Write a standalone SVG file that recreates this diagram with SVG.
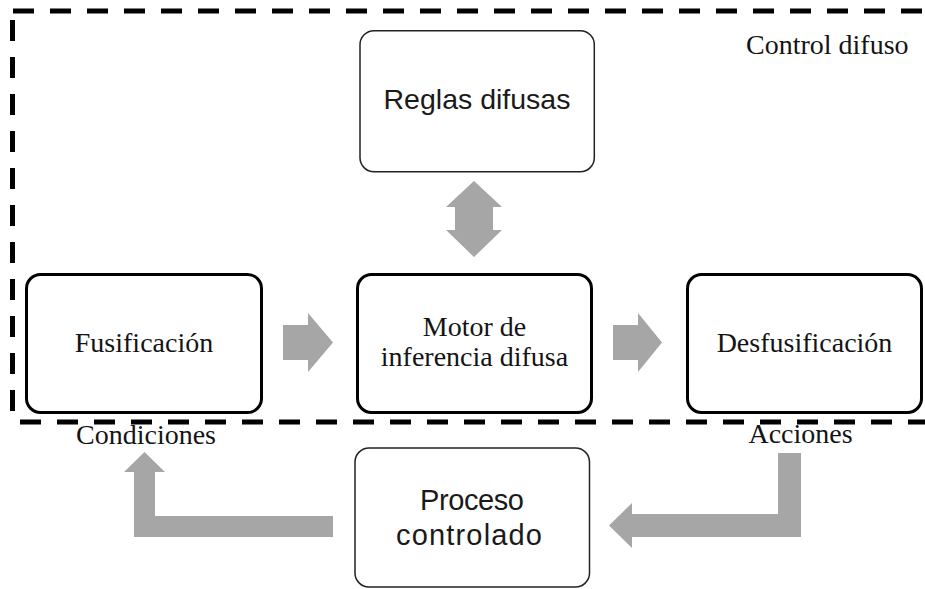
<svg xmlns="http://www.w3.org/2000/svg" width="925" height="589" viewBox="0 0 925 589">
<style>
.serif{font-family:"Liberation Serif","Times New Roman",serif;font-size:28px;fill:#141414;text-anchor:middle}
.sans{font-family:"Liberation Sans",Arial,sans-serif;font-size:28.5px;fill:#1a1a1a;text-anchor:middle}
.thick{fill:#fff;stroke:#000;stroke-width:3}
.thin{fill:#fff;stroke:#222;stroke-width:1.5}
.dash{stroke:#000;stroke-width:5;stroke-dasharray:21 16;fill:none}
.arrow{fill:#a6a6a6;stroke:none}
</style>
<rect width="925" height="589" fill="#fff"/>
<g id="control-difuso">
<line class="dash" x1="13" y1="11" x2="925" y2="11"/>
<line class="dash" x1="12.5" y1="20" x2="12.5" y2="418"/>
<line class="dash" x1="20" y1="422" x2="925" y2="422"/>
<text class="serif" x="746" y="54" style="text-anchor:start">Control difuso</text>
</g>
<g id="connectors">
<polygon class="arrow" points="474,181 502,207 493,207 493,230 502,230 474,257 446,230 455,230 455,207 446,207"/>
<polygon class="arrow" points="283,325 308,325 308,313 333,342.5 308,372 308,360 283,360"/>
<polygon class="arrow" points="613,325 638,325 638,313 662,342.5 638,372 638,360 613,360"/>
<polygon class="arrow" points="333,516 155,516 155,472 165,472 144.5,452 124,472 134,472 134,537 333,537"/>
<polygon class="arrow" points="778,453 801,453 801,537 632,537 632,548 609,525.5 632,503 632,514 778,514"/>
</g>
<g id="reglas">
<rect class="thin" x="360" y="30.7" width="234.3" height="141" rx="14"/>
<text class="sans" x="477" y="109">Reglas difusas</text>
</g>
<g id="fusificacion">
<rect class="thick" x="26.5" y="274.5" width="235" height="138" rx="14"/>
<text class="serif" x="144" y="352">Fusificación</text>
</g>
<g id="motor">
<rect class="thick" x="357.5" y="274.5" width="234" height="138" rx="14"/>
<text class="serif" x="474.5" y="336">Motor de</text>
<text class="serif" x="474.5" y="366">inferencia difusa</text>
</g>
<g id="desfusificacion">
<rect class="thick" x="687.5" y="274.5" width="234" height="138" rx="14"/>
<text class="serif" x="804.5" y="352">Desfusificación</text>
</g>
<g id="labels">
<text class="serif" x="146" y="444">Condiciones</text>
<text class="serif" x="800.5" y="443">Acciones</text>
</g>
<g id="proceso">
<rect class="thin" x="355" y="448" width="234.5" height="139" rx="14"/>
<text class="sans" x="472" y="510" style="font-size:29px" textLength="104">Proceso</text>
<text class="sans" x="469" y="545" style="font-size:29px" textLength="146">controlado</text>
</g>
</svg>
